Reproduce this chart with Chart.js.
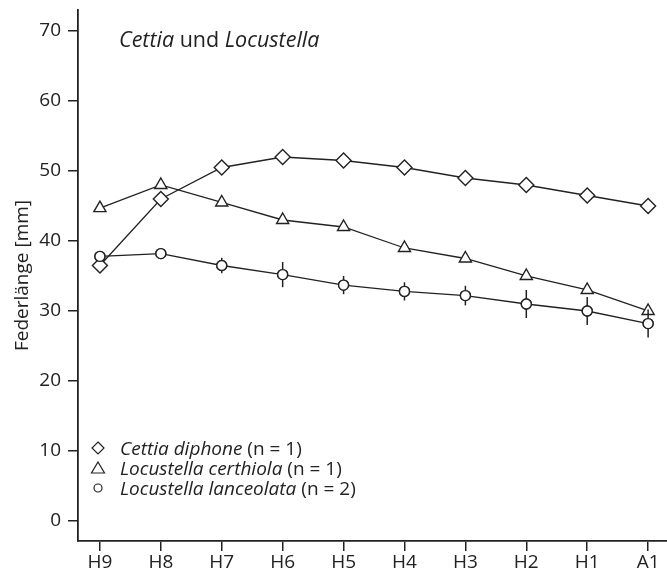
<!DOCTYPE html>
<html>
<head>
<meta charset="utf-8">
<script src="https://cdn.jsdelivr.net/npm/chart.js@4"></script>
<style>
  body { margin: 0; background: #fff; }
  #wrap { width: 667px; height: 577px; }
</style>
</head>
<body>
<div id="wrap"><canvas id="chart" width="667" height="577"></canvas></div>
<script>
// Data
const feathers = ['H9', 'H8', 'H7', 'H6', 'H5', 'H4', 'H3', 'H2', 'H1', 'A1'];
const yTicks = [0, 10, 20, 30, 40, 50, 60, 70];
const cettiaDiphone = [36.5, 46, 50.5, 52, 51.5, 50.5, 49, 48, 46.5, 45];
const locCerthiola = [44.7, 48, 45.5, 43, 42, 39, 37.5, 35, 33, 30];
const locLanceolata = [37.8, 38.2, 36.5, 35.2, 33.7, 32.8, 32.2, 31, 30, 28.2];
const lanceolataErr = [0.4, 0.4, 1.1, 1.8, 1.3, 1.3, 1.4, 2.0, 2.0, 2.0];

const FONT = '"Open Sans", "DejaVu Sans", sans-serif';
const INK = '#222';

function toPoints(values) {
    return values.map((v, i) => ({ x: i, y: v }));
}

// vertical error bars for L. lanceolata
const errorBars = {
    id: 'errorBars',
    afterDatasetsDraw(chart) {
        const ctx = chart.ctx;
        const xs = chart.scales.x, ys = chart.scales.y;
        ctx.save();
        ctx.strokeStyle = INK;
        ctx.lineWidth = 1.5;
        locLanceolata.forEach((v, i) => {
            const x = xs.getPixelForValue(i);
            ctx.beginPath();
            ctx.moveTo(x, ys.getPixelForValue(v + lanceolataErr[i]));
            ctx.lineTo(x, ys.getPixelForValue(v - lanceolataErr[i]));
            ctx.stroke();
        });
        ctx.restore();
        // circles again on top so the bars pass behind them
        chart.getDatasetMeta(2).data.forEach(p => p.draw(ctx, chart.chartArea));
    }
};

// title and legend with mixed italic text
const annotations = {
    id: 'annotations',
    afterDraw(chart) {
        const ctx = chart.ctx;
        ctx.save();
        ctx.fillStyle = INK;
        ctx.textBaseline = 'alphabetic';

        function runs(parts, x, y, size) {
            parts.forEach(([txt, italic]) => {
                ctx.font = (italic ? 'italic ' : '') + size + 'px ' + FONT;
                ctx.fillText(txt, x, y);
                x += ctx.measureText(txt).width;
            });
        }

        runs([['Cettia', true], [' und ', false], ['Locustella', true]], 119, 47, 21.5);

        const legend = [
            { style: 'diamond', parts: [['Cettia diphone', true], [' (n = 1)', false]] },
            { style: 'triangle', parts: [['Locustella certhiola', true], [' (n = 1)', false]] },
            { style: 'circle', parts: [['Locustella lanceolata', true], [' (n = 2)', false]] }
        ];
        legend.forEach((item, k) => {
            const cy = 448 + k * 20;
            const cx = 98;
            ctx.strokeStyle = INK;
            ctx.lineWidth = 1.2;
            ctx.beginPath();
            if (item.style === 'diamond') {
                ctx.moveTo(cx, cy - 6); ctx.lineTo(cx + 6, cy); ctx.lineTo(cx, cy + 6); ctx.lineTo(cx - 6, cy); ctx.closePath();
            } else if (item.style === 'triangle') {
                ctx.moveTo(cx, cy - 6); ctx.lineTo(cx + 6.5, cy + 5); ctx.lineTo(cx - 6.5, cy + 5); ctx.closePath();
            } else {
                ctx.arc(cx, cy, 4, 0, Math.PI * 2);
            }
            ctx.stroke();
            runs(item.parts, 120, cy + 6.5, 19);
        });
        ctx.restore();
    }
};

function series(label, values, style, radius) {
    return {
        label: label,
        data: toPoints(values),
        borderColor: INK,
        borderWidth: 1.3,
        pointStyle: style,
        pointRadius: radius,
        pointHoverRadius: radius,
        pointBackgroundColor: '#fff',
        pointBorderColor: INK,
        pointBorderWidth: 1.4,
        tension: 0,
        fill: false
    };
}

new Chart(document.getElementById('chart'), {
    type: 'line',
    data: {
        datasets: [
            series('Cettia diphone', cettiaDiphone, 'rectRot', 7.5),
            series('Locustella certhiola', locCerthiola, 'triangle', 7),
            series('Locustella lanceolata', locLanceolata, 'circle', 5)
        ]
    },
    options: {
        responsive: false,
        animation: false,
        layout: { autoPadding: false, padding: { top: 10, right: 0, left: 0, bottom: 0 } },
        plugins: {
            legend: { display: false },
            tooltip: { enabled: false }
        },
        scales: {
            x: {
                type: 'linear',
                min: -0.36,
                max: 9.31,
                afterBuildTicks: axis => { axis.ticks = feathers.map((f, i) => ({ value: i })); },
                afterFit: axis => { axis.height = 36; axis.paddingLeft = 0; axis.paddingRight = 0; },
                ticks: {
                    callback: v => feathers[v],
                    color: INK,
                    font: { family: FONT, size: 19 },
                    padding: 0,
                    maxRotation: 0
                },
                grid: { drawOnChartArea: false, tickLength: 10, color: INK, lineWidth: 1.5 },
                border: { color: INK, width: 1.8 }
            },
            y: {
                min: -2.86,
                max: 73,
                afterBuildTicks: axis => { axis.ticks = yTicks.map(v => ({ value: v })); },
                afterFit: axis => { axis.width = 78; axis.paddingTop = 0; axis.paddingBottom = 0; },
                ticks: {
                    color: INK,
                    font: { family: FONT, size: 19 },
                    padding: 7
                },
                grid: { drawOnChartArea: false, tickLength: 10, color: INK, lineWidth: 1.5 },
                border: { color: INK, width: 1.8 },
                title: {
                    display: true,
                    text: 'Federlänge [mm]',
                    color: INK,
                    font: { family: FONT, size: 19 },
                    padding: { top: 11, bottom: 0 }
                }
            }
        }
    },
    plugins: [errorBars, annotations]
});
</script>
</body>
</html>
